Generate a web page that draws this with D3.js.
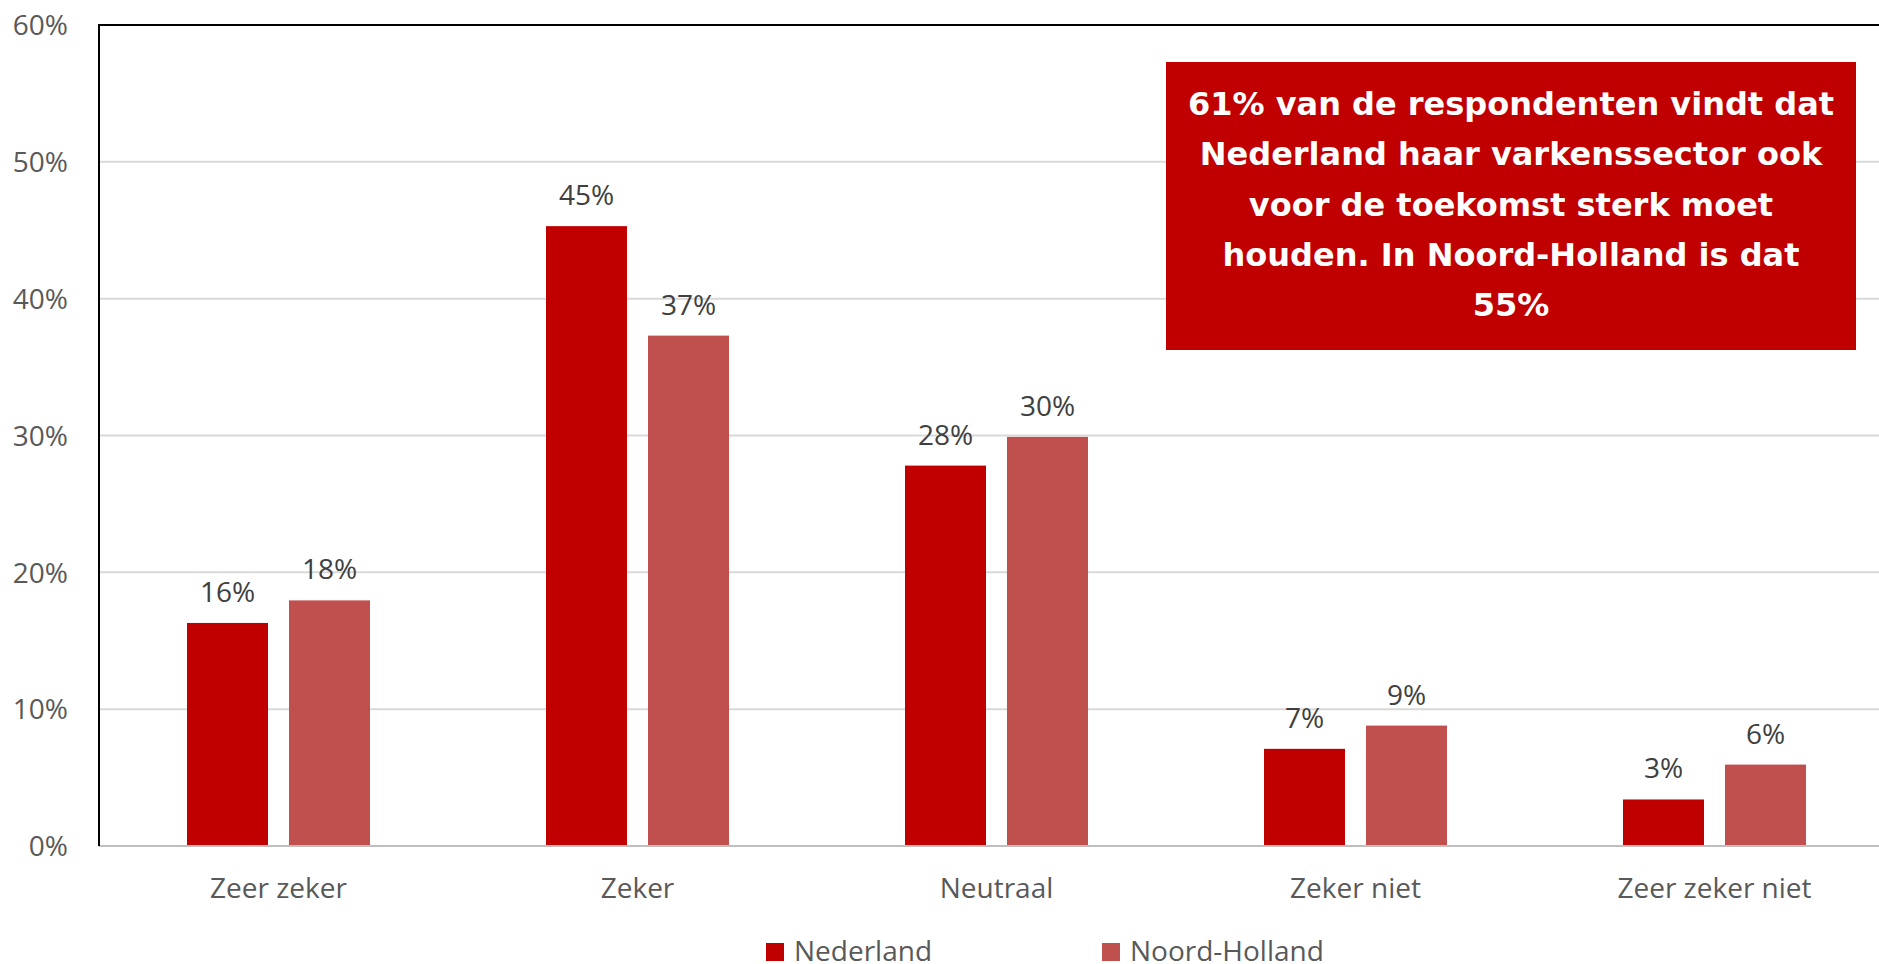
<!DOCTYPE html>
<html>
<head>
<meta charset="utf-8">
<script src="https://cdn.jsdelivr.net/npm/d3@7"></script>
<style>
  html, body { margin: 0; padding: 0; background: #fff; overflow: hidden; }
  svg { display: block; }
</style>
</head>
<body>
<svg id="chart" width="1879" height="964"></svg>
<script>
const categories = ["Zeer zeker", "Zeker", "Neutraal", "Zeker niet", "Zeer zeker niet"];
const seriesNames = ["Nederland", "Noord-Holland"];
const nederland = [0.163, 0.453, 0.278, 0.071, 0.034];
const noordHolland = [0.1795, 0.373, 0.299, 0.088, 0.0595];
const yTicks = [0, 0.1, 0.2, 0.3, 0.4, 0.5, 0.6];
const seriesColors = ["#C00000", "#C0504D"];
const calloutLines = [
  "61% van de respondenten vindt dat",
  "Nederland haar varkenssector ook",
  "voor de toekomst sterk moet",
  "houden. In Noord-Holland is dat",
  "55%"
];

const svg = d3.select("#chart");
const pLeft = 99, pRight = 1894, pTop = 25, pBottom = 846;
const labelFont = "Open Sans";
const labelSize = 28;

const x0 = d3.scaleBand().domain(categories).range([pLeft, pRight]).paddingInner(0).paddingOuter(0);
const y = d3.scaleLinear().domain([0, 0.6]).range([pBottom, pTop]);
const bw = x0.bandwidth();
const barW = bw * 0.2256;
const gap = bw * 0.0585;
const x1 = d3.scaleOrdinal().domain(seriesNames).range([-gap / 2 - barW, gap / 2]);

// gridlines
svg.append("g").selectAll("line").data(yTicks.filter(d => d > 0 && d < 0.6)).join("line")
  .attr("x1", pLeft).attr("x2", 1879)
  .attr("y1", d => y(d)).attr("y2", d => y(d))
  .attr("stroke", "#d9d9d9").attr("stroke-width", 2);

// y tick labels
const yAxis = d3.axisLeft(y).tickValues(yTicks).tickFormat(d3.format(".0%")).tickSize(0).tickPadding(0);
const ya = svg.append("g").attr("transform", `translate(68,0)`).call(yAxis);
ya.select(".domain").remove();
ya.selectAll("text").attr("font-family", labelFont).attr("font-size", labelSize).attr("fill", "#595959").attr("dy", "0.35em");

// bars
const data = [];
categories.forEach((c, i) => {
  data.push({ cat: c, s: seriesNames[0], v: nederland[i] });
  data.push({ cat: c, s: seriesNames[1], v: noordHolland[i] });
});
const color = d3.scaleOrdinal().domain(seriesNames).range(seriesColors);

svg.append("g").selectAll("rect").data(data).join("rect")
  .attr("x", d => x0(d.cat) + bw / 2 + x1(d.s))
  .attr("width", barW)
  .attr("y", d => y(d.v))
  .attr("height", d => y(0) - y(d.v))
  .attr("fill", d => color(d.s));

// data labels
svg.append("g").selectAll("text").data(data).join("text")
  .attr("x", d => x0(d.cat) + bw / 2 + x1(d.s) + barW / 2)
  .attr("y", d => y(d.v) - 21)
  .attr("text-anchor", "middle")
  .attr("font-family", labelFont).attr("font-size", labelSize).attr("fill", "#404040")
  .text(d => Math.round(d.v * 100) + "%");

// x axis line
svg.append("line").attr("x1", pLeft).attr("x2", 1879).attr("y1", y(0)).attr("y2", y(0))
  .attr("stroke", "#bfbfbf").attr("stroke-width", 2);

// border lines top & left
svg.append("line").attr("x1", pLeft).attr("x2", 1879).attr("y1", pTop).attr("y2", pTop)
  .attr("stroke", "#000").attr("stroke-width", 2);
svg.append("line").attr("x1", pLeft).attr("x2", pLeft).attr("y1", pTop - 1).attr("y2", pBottom)
  .attr("stroke", "#000").attr("stroke-width", 2);

// category labels
const xAxis = d3.axisBottom(x0).tickSize(0).tickPadding(0);
const xa = svg.append("g").attr("transform", `translate(0,898)`).call(xAxis);
xa.select(".domain").remove();
xa.selectAll("text").attr("font-family", labelFont).attr("font-size", labelSize).attr("fill", "#595959").attr("dy", 0);

// legend
const legendX = [766, 1102];
const lg = svg.append("g").selectAll("g").data(seriesNames).join("g")
  .attr("transform", (d, i) => `translate(${legendX[i]},943)`);
lg.append("rect").attr("width", 18).attr("height", 18).attr("fill", d => color(d));
lg.append("text").attr("x", 28).attr("y", 18).attr("font-family", labelFont).attr("font-size", labelSize)
  .attr("fill", "#595959").text(d => d);

// callout box
svg.append("rect").attr("x", 1166).attr("y", 62).attr("width", 690).attr("height", 288).attr("fill", "#C00000");
svg.append("g").selectAll("text").data(calloutLines).join("text")
  .attr("x", 1511).attr("y", (d, i) => 115 + i * 50.25)
  .attr("text-anchor", "middle")
  .attr("font-family", "DejaVu Sans").attr("font-weight", "bold").attr("font-size", 32)
  .attr("fill", "#fff").text(d => d);
</script>
</body>
</html>
